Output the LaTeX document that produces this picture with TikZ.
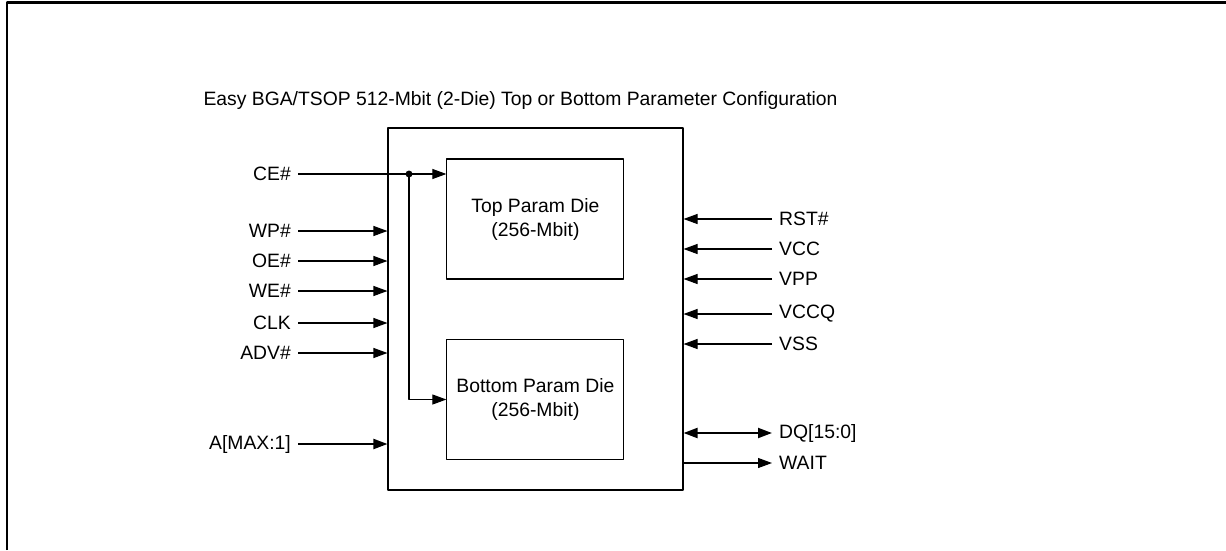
\documentclass[tikz,border=0pt]{standalone}
\usepackage{fontspec}
\setmainfont{Liberation Sans}
\usetikzlibrary{arrows.meta}
\begin{document}
\begin{tikzpicture}[x=0.75pt,y=-0.75pt,line join=round,>={Triangle[length=10.5pt,width=7.5pt]},
    font=\fontsize{14.5}{18}\selectfont,line width=0.8pt,
    chipbox/.style={draw,minimum width=221.25pt,minimum height=271.5pt},
    diebox/.style={draw,align=center,minimum width=132.75pt,minimum height=90pt},
    sigl/.style={inner xsep=5pt,inner ysep=0pt},
    bus/.style={line width=1.5pt}]
    \useasboundingbox (0,0) rectangle (1226,550);
    \draw[line width=1.9pt] (7,550) -- (7,2.5) -- (1226,2.5);
    \node[anchor=base west,inner sep=0pt] (title) at (203,105)
        {Easy BGA/TSOP 512-Mbit (2-Die) Top or Bottom Parameter Configuration};
    % package and the two dies
    \node[chipbox] (chip) at (535.5,309) {};
    \node[diebox] (topdie) at (535.4,219) {Top Param Die\\(256-Mbit)};
    \node[diebox] (botdie) at (535.4,399.5) {Bottom Param Die\\(256-Mbit)};
    % inputs on the left
    \foreach \n/\t/\y in {ce/CE\#/174,wp/WP\#/231,oe/OE\#/261,we/WE\#/291,
        clk/CLK/323,adv/ADV\#/353,addr/A[MAX:1]/444}
    \node[sigl,anchor=east] (\n) at (298,\y) {\t};
    \foreach \n in {wp,oe,we,clk,adv}
    \draw[->] (\n) -- (\n -| chip.west);
    \draw[->,bus] (addr) -- (addr -| chip.west);
    \coordinate (jn) at (409,174);
    \draw[->] (ce) -- (ce -| topdie.west);
    \draw[->] (jn) |- (botdie.west);
    \fill (jn) circle (2.6pt);
    % signals on the right
    \foreach \n/\t/\y in {rst/RST\#/219,vcc/VCC/249,vpp/VPP/279,vccq/VCCQ/314,
        vss/VSS/344,dq/DQ[15:0]/433,wait/WAIT/463}
    \node[sigl,anchor=west] (\n) at (772,\y) {\t};
    \foreach \n in {rst,vcc,vpp,vccq,vss}
    \draw[->] (\n) -- (\n -| chip.east);
    \draw[<->,bus] (dq) -- (dq -| chip.east);
    \draw[->] (chip.east |- wait) -- (wait);
\end{tikzpicture}
\end{document}
